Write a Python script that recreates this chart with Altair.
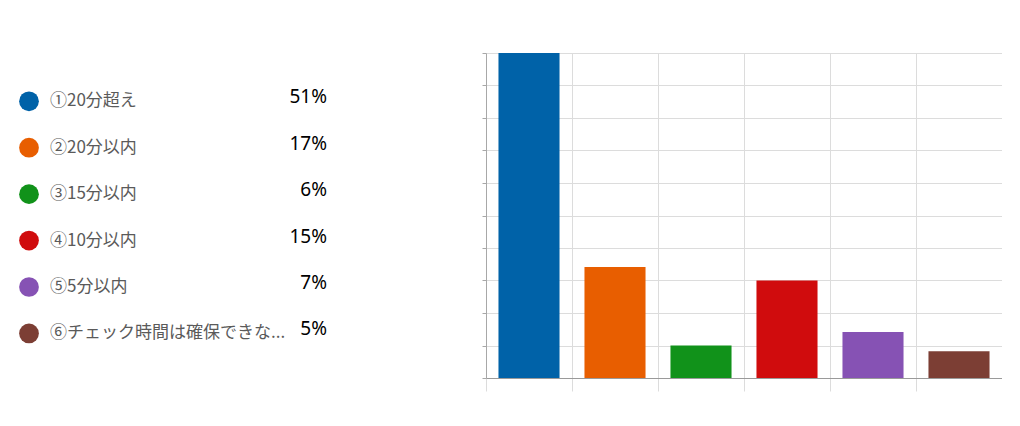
import altair as alt
import pandas as pd

categories = ["①20分超え", "②20分以内", "③15分以内", "④10分以内", "⑤5分以内", "⑥チェック時間は確保できな..."]
bar_values = [51, 17.4, 5.1, 15.3, 7.2, 4.2]
pct_labels = ["51%", "17%", "6%", "15%", "7%", "5%"]
colors = ["#0062A8", "#E85E00", "#11921A", "#D00C0D", "#8652B4", "#7C3E34"]
y_ticks = [0, 5.1, 10.2, 15.3, 20.4, 25.5, 30.6, 35.7, 40.8, 45.9, 51]

df = pd.DataFrame({"cat": categories, "value": bar_values, "pct": pct_labels})

color = alt.Color("cat:N", scale=alt.Scale(domain=categories, range=colors), legend=None)
ly = alt.Y("cat:N", sort=categories, axis=None,
           scale=alt.Scale(type="point", padding=1.05, align=0.52))

base_l = alt.Chart(df).properties(width=330, height=325)
dots = base_l.mark_circle(size=390, opacity=1).encode(x=alt.value(21), y=ly, color=color)
names = base_l.mark_text(align="left", baseline="middle", fontSize=17,
                         font="Noto Sans CJK JP", color="#5a5a5a").encode(
    x=alt.value(42), y=ly, text="cat:N")
pcts = base_l.mark_text(align="right", baseline="middle", fontSize=19, dy=-4,
                        font="Noto Sans", color="#000000").encode(
    x=alt.value(319), y=ly, text="pct:N")
left = alt.layer(dots, names, pcts)

bars = alt.Chart(df).mark_bar(width=alt.RelativeBandSize(0.71)).encode(
    x=alt.X("cat:N", sort=categories, title=None,
            scale=alt.Scale(paddingInner=0, paddingOuter=0),
            axis=alt.Axis(labels=False, ticks=True, tickSize=13, grid=True, bandPosition=0,
                          domainColor="#9a9a9a", tickColor="#dcdcdc", gridColor="#dcdcdc")),
    y=alt.Y("value:Q", title=None,
            scale=alt.Scale(domain=[0, 51], nice=False),
            axis=alt.Axis(values=y_ticks, labels=False, ticks=True, tickSize=4, grid=True,
                          domainColor="#a8a8a8", tickColor="#a8a8a8", gridColor="#dcdcdc")),
    color=color,
).properties(width=516, height=325)

chart = alt.hconcat(left, bars, spacing=143).properties(
    padding={"top": 44, "left": 0, "right": 0, "bottom": 0}
).configure_view(stroke=None)

chart.save("out.html", embed_options={"renderer": "svg", "actions": False})
